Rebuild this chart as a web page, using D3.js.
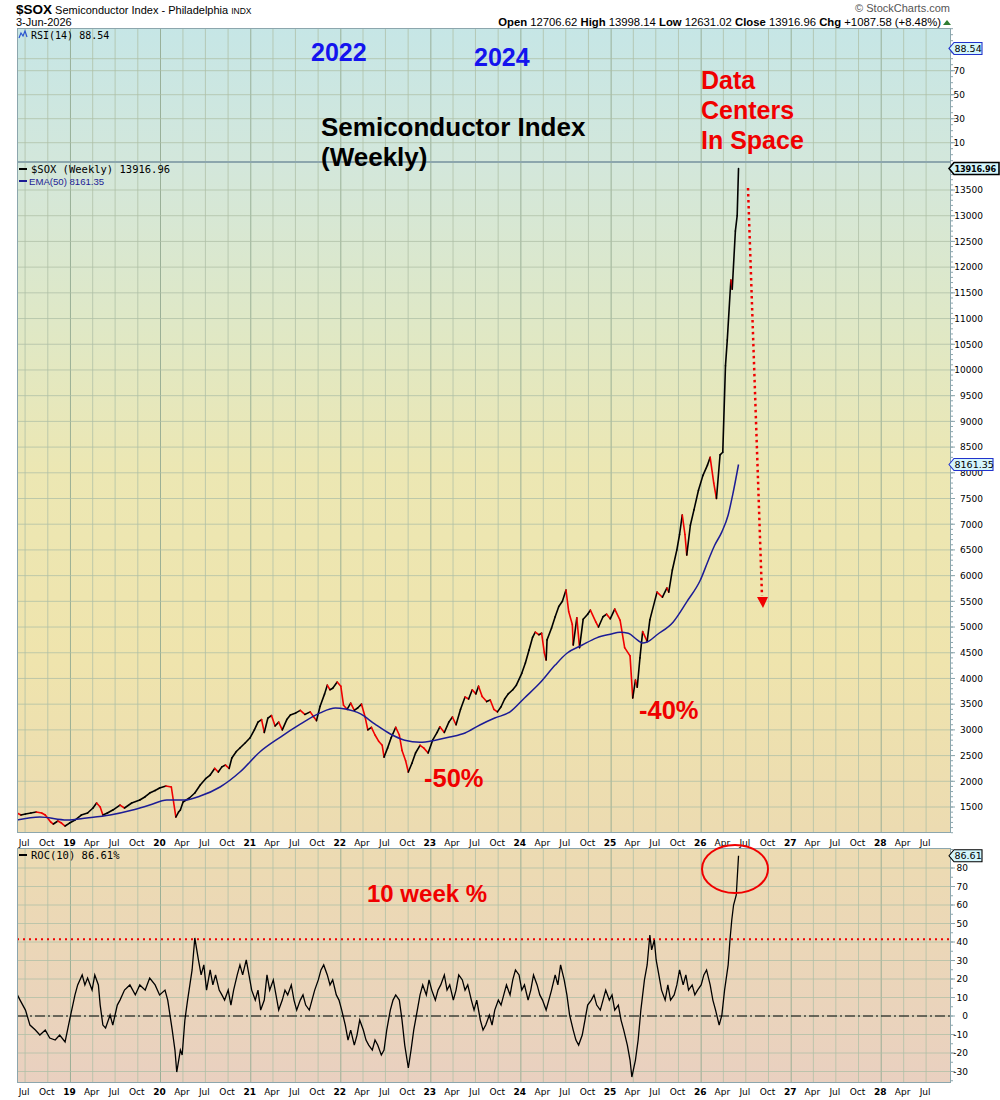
<!DOCTYPE html>
<html>
<head>
<meta charset="utf-8">
<script src="https://cdn.jsdelivr.net/npm/d3@7"></script>
<style>
  body { margin: 0; background: #fff; }
  svg text { font-family: "Liberation Sans", Arial, sans-serif; }
</style>
</head>
<body>
<svg id="chart" width="1000" height="1100"></svg>
<script>
// weekly closes, [decimal year, value]
const sox = [
  [2018.406,1383],[2018.45,1344],[2018.50,1363],[2018.56,1383],[2018.62,1402],[2018.68,1383],
  [2018.72,1344],[2018.78,1208],[2018.81,1169],[2018.86,1227],[2018.90,1188],[2018.94,1130],
  [2018.99,1188],[2019.05,1247],[2019.12,1344],[2019.19,1383],[2019.25,1480],[2019.29,1578],
  [2019.33,1500],[2019.36,1344],[2019.41,1383],[2019.47,1441],[2019.55,1538],[2019.60,1480],
  [2019.68,1578],[2019.77,1636],[2019.83,1700],[2019.88,1772],[2019.94,1820],[2019.99,1869],
  [2020.06,1908],[2020.12,1889],[2020.17,1305],[2020.20,1402],[2020.22,1441],[2020.25,1597],
  [2020.32,1675],[2020.38,1772],[2020.44,1927],[2020.50,2050],[2020.55,2122],[2020.60,2250],
  [2020.64,2180],[2020.68,2280],[2020.72,2316],[2020.76,2250],[2020.79,2452],[2020.84,2580],
  [2020.88,2647],[2020.94,2750],[2020.99,2841],[2021.04,3000],[2021.08,3150],[2021.12,3200],
  [2021.15,2950],[2021.19,3230],[2021.23,3280],[2021.27,3075],[2021.31,3150],[2021.35,3000],
  [2021.40,3200],[2021.44,3290],[2021.50,3330],[2021.55,3380],[2021.60,3300],[2021.66,3350],
  [2021.70,3250],[2021.73,3180],[2021.77,3460],[2021.82,3700],[2021.85,3870],[2021.88,3780],
  [2021.91,3810],[2021.96,3930],[2022.00,3850],[2022.03,3480],[2022.07,3400],[2022.11,3520],
  [2022.15,3380],[2022.19,3430],[2022.23,3500],[2022.27,3250],[2022.30,3000],[2022.34,3050],
  [2022.38,2900],[2022.42,2780],[2022.46,2700],[2022.48,2470],[2022.52,2650],[2022.56,2850],
  [2022.61,3050],[2022.65,2900],[2022.68,2600],[2022.72,2400],[2022.75,2180],[2022.79,2350],
  [2022.83,2550],[2022.88,2700],[2022.92,2650],[2022.97,2550],[2023.02,2800],[2023.07,2950],
  [2023.10,3060],[2023.15,2950],[2023.20,3150],[2023.24,3250],[2023.28,3100],[2023.33,3400],
  [2023.38,3640],[2023.42,3600],[2023.46,3780],[2023.50,3700],[2023.53,3850],[2023.57,3650],
  [2023.62,3550],[2023.66,3580],[2023.70,3400],[2023.74,3350],[2023.78,3450],[2023.82,3600],
  [2023.86,3700],[2023.91,3780],[2023.95,3870],[2024.01,4100],[2024.05,4300],[2024.09,4550],
  [2024.13,4800],[2024.16,4900],[2024.20,4850],[2024.23,4880],[2024.26,4500],[2024.28,4360],
  [2024.29,4750],[2024.34,4980],[2024.38,5200],[2024.42,5400],[2024.46,5500],[2024.50,5720],
  [2024.53,5300],[2024.57,5050],[2024.58,4650],[2024.62,5180],[2024.65,4600],[2024.69,5150],
  [2024.74,5250],[2024.77,5330],[2024.83,5100],[2024.86,5000],[2024.91,5200],[2024.95,5250],
  [2024.99,5160],[2025.04,5350],[2025.10,5130],[2025.15,4600],[2025.21,4440],[2025.24,3620],
  [2025.27,3970],[2025.29,3830],[2025.32,4400],[2025.35,4910],[2025.40,4720],[2025.43,5140],
  [2025.51,5680],[2025.57,5580],[2025.62,5760],[2025.64,5680],[2025.68,6110],[2025.73,6500],
  [2025.76,6800],[2025.79,7180],[2025.82,6800],[2025.84,6400],[2025.88,6980],[2025.92,7280],
  [2025.97,7660],[2026.02,7950],[2026.07,8150],[2026.10,8300],[2026.14,7800],[2026.17,7500],
  [2026.21,8350],[2026.24,8400],[2026.27,10080],[2026.29,10580],[2026.33,11750],[2026.345,11570],
  [2026.38,12700],[2026.40,13000],[2026.415,13916.96]
];

const ema50 = [
  [2018.406,1247],[2018.66,1305],[2018.96,1247],[2019.18,1286],[2019.44,1344],[2019.69,1441],
  [2019.88,1538],[2020.07,1636],[2020.27,1636],[2020.44,1714],[2020.66,1889],[2020.88,2180],
  [2021.10,2570],[2021.33,2860],[2021.55,3110],[2021.77,3330],[2021.94,3425],[2022.05,3405],
  [2022.22,3310],[2022.38,3110],[2022.55,2920],[2022.71,2800],[2022.88,2760],[2023.05,2800],
  [2023.21,2860],[2023.38,2940],[2023.55,3100],[2023.71,3230],[2023.88,3350],[2024.04,3620],
  [2024.21,3910],[2024.38,4260],[2024.51,4490],[2024.68,4650],[2024.84,4790],[2024.99,4860],
  [2025.10,4900],[2025.19,4880],[2025.29,4750],[2025.35,4690],[2025.40,4710],[2025.51,4850],
  [2025.69,5100],[2025.84,5490],[2025.99,5910],[2026.08,6300],[2026.15,6590],[2026.23,6850],
  [2026.30,7180],[2026.35,7570],[2026.415,8161.35]
];

const roc10 = [
  [2018.41,11.4],[2018.44,8.6],[2018.50,3.2],[2018.55,-4.9],[2018.61,-7.6],[2018.66,-10.3],
  [2018.72,-7.6],[2018.77,-11.9],[2018.83,-13.0],[2018.88,-10.3],[2018.94,-14.0],[2018.99,-2.2],
  [2019.05,11.4],[2019.08,16.8],[2019.13,22.2],[2019.16,16.8],[2019.19,20.5],[2019.24,14.0],
  [2019.27,22.2],[2019.31,16.8],[2019.33,5.9],[2019.36,-4.9],[2019.39,-6.5],[2019.44,0.5],
  [2019.47,-4.9],[2019.52,5.9],[2019.55,8.6],[2019.60,14.0],[2019.66,16.8],[2019.72,11.4],
  [2019.77,16.8],[2019.83,14.0],[2019.88,20.5],[2019.94,16.8],[2019.99,11.4],[2020.05,14.0],
  [2020.08,8.6],[2020.13,-7.6],[2020.16,-18.4],[2020.18,-30.3],[2020.22,-18.4],[2020.24,-21.1],
  [2020.27,-2.2],[2020.30,8.6],[2020.35,24.9],[2020.38,42.2],[2020.42,30.3],[2020.45,22.2],
  [2020.48,27.6],[2020.51,14.0],[2020.55,24.9],[2020.58,16.8],[2020.61,22.2],[2020.65,14.0],
  [2020.68,11.4],[2020.71,8.6],[2020.75,14.0],[2020.78,5.9],[2020.81,14.0],[2020.85,22.2],
  [2020.88,27.6],[2020.91,22.2],[2020.95,30.3],[2020.98,22.2],[2021.01,14.0],[2021.05,8.6],
  [2021.08,14.0],[2021.11,3.2],[2021.15,8.6],[2021.18,22.2],[2021.21,14.0],[2021.25,19.5],
  [2021.28,11.4],[2021.31,3.2],[2021.35,8.6],[2021.38,14.0],[2021.41,11.4],[2021.45,16.8],
  [2021.48,8.6],[2021.51,3.2],[2021.55,8.6],[2021.58,11.4],[2021.61,5.9],[2021.65,3.2],
  [2021.68,8.6],[2021.71,14.0],[2021.75,19.5],[2021.78,24.9],[2021.81,27.6],[2021.85,22.2],
  [2021.88,16.8],[2021.91,19.5],[2021.95,11.4],[2021.98,8.6],[2022.01,3.2],[2022.05,-4.9],
  [2022.08,-13.0],[2022.11,-7.6],[2022.15,-15.7],[2022.18,-10.3],[2022.21,-2.2],[2022.25,-7.6],
  [2022.28,-13.0],[2022.31,-15.7],[2022.35,-18.4],[2022.38,-13.0],[2022.41,-15.7],[2022.45,-21.1],
  [2022.48,-18.4],[2022.51,-7.6],[2022.55,3.2],[2022.58,8.6],[2022.61,11.4],[2022.65,8.6],
  [2022.68,-2.2],[2022.71,-15.7],[2022.75,-28.1],[2022.78,-18.4],[2022.81,-7.6],[2022.85,3.2],
  [2022.88,11.4],[2022.91,16.8],[2022.95,11.4],[2022.98,19.5],[2023.01,14.0],[2023.05,8.6],
  [2023.08,14.0],[2023.11,16.8],[2023.15,22.2],[2023.18,14.0],[2023.21,16.8],[2023.25,8.6],
  [2023.28,14.0],[2023.31,22.2],[2023.35,19.5],[2023.38,14.0],[2023.41,16.8],[2023.45,8.6],
  [2023.48,3.2],[2023.51,8.6],[2023.55,-2.2],[2023.58,-7.6],[2023.61,-4.9],[2023.65,0.5],
  [2023.68,-4.9],[2023.71,3.2],[2023.75,8.6],[2023.78,5.9],[2023.81,11.4],[2023.84,16.8],
  [2023.88,11.4],[2023.91,19.5],[2023.94,24.9],[2023.98,22.2],[2024.01,14.0],[2024.04,16.8],
  [2024.08,8.6],[2024.11,14.0],[2024.14,22.2],[2024.18,16.8],[2024.21,11.4],[2024.24,8.6],
  [2024.28,3.2],[2024.31,8.6],[2024.34,14.0],[2024.38,22.2],[2024.41,16.8],[2024.44,27.6],
  [2024.48,19.5],[2024.51,11.4],[2024.54,0.5],[2024.58,-7.6],[2024.61,-13.0],[2024.64,-15.7],
  [2024.68,-10.3],[2024.71,-2.2],[2024.74,5.9],[2024.78,8.6],[2024.81,11.4],[2024.84,5.9],
  [2024.88,3.2],[2024.91,8.6],[2024.94,14.0],[2024.98,8.6],[2025.01,11.4],[2025.04,3.2],
  [2025.08,5.9],[2025.11,-2.2],[2025.14,-7.6],[2025.18,-15.7],[2025.21,-23.8],[2025.23,-33.0],
  [2025.27,-23.8],[2025.30,-13.0],[2025.33,3.2],[2025.37,19.5],[2025.40,27.6],[2025.43,43.8],
  [2025.45,35.7],[2025.48,41.1],[2025.50,30.3],[2025.53,22.2],[2025.56,14.0],[2025.60,8.6],
  [2025.63,16.8],[2025.66,8.6],[2025.70,11.4],[2025.73,16.8],[2025.76,24.9],[2025.80,16.8],
  [2025.83,22.2],[2025.86,14.0],[2025.90,16.8],[2025.93,11.4],[2025.96,14.0],[2026.00,16.8],
  [2026.03,22.2],[2026.06,24.9],[2026.10,16.8],[2026.13,8.6],[2026.16,3.2],[2026.20,-4.9],
  [2026.23,0.5],[2026.26,14.0],[2026.30,27.6],[2026.32,41.1],[2026.34,51.9],[2026.36,60.0],
  [2026.39,65.4],[2026.415,86.61]
];

const rsiTicks = [10, 30, 50, 70];
const mainTicks = [1500,2000,2500,3000,3500,4000,4500,5000,5500,6000,6500,7000,7500,
  8000,8500,9000,9500,10000,10500,11000,11500,12000,12500,13000,13500];
const rocTicks = [-30,-20,-10,0,10,20,30,40,50,60,70,80];
const monthLabels = {3: 'Apr', 6: 'Jul', 9: 'Oct'};

const RED = '#f00000';
const L = 17, R = 951;
const P = {
  rsi:  {top: 28,  bot: 162},
  main: {top: 162, bot: 833},
  roc:  {top: 848, bot: 1083}
};

const toDate = y => {
  const Y = Math.floor(y);
  const a = new Date(Y, 0, 1), b = new Date(Y + 1, 0, 1);
  return new Date(+a + (y - Y) * (b - a));
};

const x = d3.scaleTime().domain([toDate(2018.406), toDate(2028.773)]).range([L, R]);
const yRsi = d3.scaleLinear().domain([10, 70]).range([142.7, 70.7]);
const yMain = d3.scaleLinear().domain([1500, 13500]).range([807, 190]);
const yRoc = d3.scaleLinear().domain([0, 80]).range([1016, 868]);

const svg = d3.select('#chart');
const defs = svg.append('defs');

const grad = defs.append('linearGradient')
  .attr('id', 'bg').attr('gradientUnits', 'userSpaceOnUse')
  .attr('x1', 0).attr('y1', 28).attr('x2', 0).attr('y2', 1083);
[[0, '#c6e6e6'], [0.13, '#d3e7db'], [0.28, '#dfe8c6'], [0.42, '#ece7b3'],
 [0.6, '#efe4ad'], [0.76, '#ecdbb1'], [0.8, '#ecdab3'], [1, '#e9d0c0']]
  .forEach(s => grad.append('stop').attr('offset', s[0]).attr('stop-color', s[1]));

Object.entries(P).forEach(([k, p]) => {
  defs.append('clipPath').attr('id', 'clip-' + k)
    .append('rect').attr('x', L).attr('y', p.top).attr('width', R - L).attr('height', p.bot - p.top);
});

// panel backgrounds
Object.values(P).forEach(p => {
  svg.append('rect').attr('x', L).attr('y', p.top).attr('width', R - L)
    .attr('height', p.bot - p.top).attr('fill', 'url(#bg)');
});

// vertical gridlines every quarter
const quarters = x.ticks(d3.timeMonth.every(3)).filter(d => x(d) < 940);
Object.values(P).forEach(p => {
  svg.append('g').selectAll('line').data(quarters).enter().append('line')
    .attr('x1', d => x(d)).attr('x2', d => x(d))
    .attr('y1', p.top).attr('y2', p.bot)
    .attr('stroke', d => d.getMonth() === 0 ? '#94ab92' : '#aebfa6')
    .attr('stroke-width', 1)
    .style('opacity', d => d.getMonth() === 0 ? 0.9 : 0.75);
});

// horizontal gridlines
function hGrid(vals, scale, p) {
  svg.append('g').selectAll('line').data(vals.filter(v => scale(v) > p.top + 2 && scale(v) < p.bot - 1))
    .enter().append('line')
    .attr('x1', L).attr('x2', R)
    .attr('y1', d => scale(d)).attr('y2', d => scale(d))
    .attr('stroke', '#aebfa6').attr('stroke-width', 1).style('opacity', 0.75);
}
hGrid([10, 30, 50, 70, 80], yRsi, P.rsi);
hGrid(mainTicks, yMain, P.main);
hGrid(rocTicks, yRoc, P.roc);

// price line, red on down weeks
const mainG = svg.append('g').attr('clip-path', 'url(#clip-main)');
const pairs = d3.pairs(sox);
mainG.selectAll('line.px').data(pairs).enter().append('line')
  .attr('class', 'px')
  .attr('x1', d => x(toDate(d[0][0]))).attr('y1', d => yMain(d[0][1]))
  .attr('x2', d => x(toDate(d[1][0]))).attr('y2', d => yMain(d[1][1]))
  .attr('stroke', d => d[1][1] < d[0][1] ? RED : '#000')
  .attr('stroke-width', 1.6).attr('stroke-linecap', 'round');

mainG.append('path').datum(ema50)
  .attr('fill', 'none').attr('stroke', '#1c1c96').attr('stroke-width', 1.5)
  .attr('d', d3.line().curve(d3.curveMonotoneX).x(d => x(toDate(d[0]))).y(d => yMain(d[1])));

// ROC panel
const rocG = svg.append('g').attr('clip-path', 'url(#clip-roc)');
rocG.append('line').attr('x1', L).attr('x2', R)
  .attr('y1', yRoc(41.5)).attr('y2', yRoc(41.5))
  .attr('stroke', RED).attr('stroke-width', 2).attr('stroke-dasharray', '2,4');
rocG.append('line').attr('x1', L).attr('x2', R)
  .attr('y1', yRoc(0)).attr('y2', yRoc(0))
  .attr('stroke', '#000').attr('stroke-width', 1).attr('stroke-dasharray', '10,3,2,3');
rocG.append('path').datum(roc10)
  .attr('fill', 'none').attr('stroke', '#000').attr('stroke-width', 1.3)
  .attr('d', d3.line().x(d => x(toDate(d[0]))).y(d => yRoc(d[1])));

// panel borders
Object.values(P).forEach(p => {
  svg.append('rect').attr('x', L + 0.5).attr('y', p.top + 0.5).attr('width', R - L - 1)
    .attr('height', p.bot - p.top - 1).attr('fill', 'none').attr('stroke', '#8ca6ad');
});

// right axes
function rightAxis(scale, ticks, minorStep, p, labelX) {
  const lo = scale.invert(p.bot), hi = scale.invert(p.top);
  const minor = d3.range(Math.ceil(lo / minorStep) * minorStep, hi, minorStep);
  const g = svg.append('g');
  g.selectAll('line.mn').data(minor).enter().append('line')
    .attr('x1', R).attr('x2', R + 2).attr('y1', d => scale(d)).attr('y2', d => scale(d))
    .attr('stroke', '#8ca6ad');
  g.selectAll('line.mj').data(ticks).enter().append('line')
    .attr('x1', R).attr('x2', R + 4).attr('y1', d => scale(d)).attr('y2', d => scale(d))
    .attr('stroke', '#8ca6ad');
  g.selectAll('text').data(ticks).enter().append('text')
    .attr('x', labelX).attr('y', d => scale(d) + 3.3)
    .attr('text-anchor', 'end')
    .style('font-family', '"DejaVu Sans", Verdana, sans-serif').style('font-size', '9px')
    .text(d => d);
}
rightAxis(yRsi, rsiTicks, 5, P.rsi, 965);
rightAxis(yMain, mainTicks, 100, P.main, 983);
rightAxis(yRoc, rocTicks, 5, P.roc, 968);

// bottom date labels
[842, 1091].forEach(yy => {
  svg.append('g').selectAll('text').data(quarters).enter().append('text')
    .attr('x', d => x(d) - 1).attr('y', yy + 3.5)
    .attr('text-anchor', 'middle')
    .style('font-family', '"DejaVu Sans", Verdana, sans-serif')
    .style('font-size', '9px')
    .style('font-weight', d => d.getMonth() === 0 ? 'bold' : 'normal')
    .text(d => d.getMonth() === 0 ? d3.timeFormat('%y')(d) : monthLabels[d.getMonth()]);
});

// value badges on the right edge
function badge(yc, label, w, border, bold) {
  const g = svg.append('g');
  g.append('path')
    .attr('d', `M${R - 2},${yc} L${R + 3},${yc - 6} L${R + w},${yc - 6} L${R + w},${yc + 6} L${R + 3},${yc + 6} Z`)
    .attr('fill', '#d4f6fc').attr('stroke', border).attr('stroke-width', bold ? 1.6 : 1.1);
  g.append('text').attr('x', R + 3.5).attr('y', yc + 3.5)
    .style('font-family', '"DejaVu Sans", Verdana, sans-serif')
    .style('font-size', bold ? '8.2px' : '9.5px').style('font-weight', bold ? 'bold' : 'normal')
    .style('letter-spacing', bold ? '-0.2px' : '0')
    .text(label);
}
badge(yRsi(88.54), '88.54', 31, '#2233cc', false);
badge(yMain(13916.96), '13916.96', 48, '#000', true);
badge(yMain(8161.35), '8161.35', 42, '#2233cc', false);
badge(yRoc(86.61), '86.61', 31, '#000', false);

// panel legends
const mono = '"DejaVu Sans Mono", monospace';
svg.append('path').attr('d', 'M19,38 L21,33 L23,36 L25,31 L27,37')
  .attr('fill', 'none').attr('stroke', '#2a55d0').attr('stroke-width', 1.2);
svg.append('text').attr('x', 31).attr('y', 39).style('font-family', mono).style('font-size', '10px')
  .text('RSI(14) 88.54');
svg.append('line').attr('x1', 19).attr('x2', 27).attr('y1', 169).attr('y2', 169)
  .attr('stroke', '#000').attr('stroke-width', 2);
svg.append('text').attr('x', 31).attr('y', 173).style('font-family', mono).style('font-size', '10.5px')
  .text('$SOX (Weekly) 13916.96');
svg.append('line').attr('x1', 19).attr('x2', 27).attr('y1', 181).attr('y2', 181)
  .attr('stroke', '#1c1c96').attr('stroke-width', 2);
svg.append('text').attr('x', 29).attr('y', 184.5).style('font-size', '9.6px').attr('fill', '#1c1c96')
  .text('EMA(50) 8161.35');
svg.append('line').attr('x1', 19).attr('x2', 27).attr('y1', 855).attr('y2', 855)
  .attr('stroke', '#000').attr('stroke-width', 2);
svg.append('text').attr('x', 31).attr('y', 859).style('font-family', mono).style('font-size', '10.5px')
  .text('ROC(10) 86.61%');

// header
const h1 = svg.append('text').attr('x', 16).attr('y', 14);
h1.append('tspan').style('font-weight', 'bold').style('font-size', '13.5px').text('$SOX');
h1.append('tspan').style('font-size', '11px').text(' Semiconductor Index - Philadelphia ');
h1.append('tspan').style('font-size', '8.5px').text('INDX');
svg.append('text').attr('x', 16).attr('y', 25.5).style('font-size', '11px').text('3-Jun-2026');
svg.append('text').attr('x', 950).attr('y', 12).attr('text-anchor', 'end')
  .style('font-size', '11px').attr('fill', '#555').text('\u00a9 StockCharts.com');
const quote = [['Open', '12706.62'], ['High', '13998.14'], ['Low', '12631.02'],
  ['Close', '13916.96'], ['Chg', '+1087.58 (+8.48%)']];
const hq = svg.append('text').attr('x', 941).attr('y', 25.5).attr('text-anchor', 'end').style('font-size', '11.3px');
quote.forEach((q, i) => {
  hq.append('tspan').style('font-weight', 'bold').text((i ? '  ' : '') + q[0] + ' ');
  hq.append('tspan').text(q[1]);
});
svg.append('path').attr('d', 'M943,25 L947,20 L951,25 Z').attr('fill', '#2e7d32');

// annotations
const ann = (tx, ty, txt, col, size) => svg.append('text').attr('x', tx).attr('y', ty)
  .style('font-weight', 'bold').style('font-size', size + 'px').attr('fill', col).text(txt);
ann(311, 61, '2022', '#1414ee', 25);
ann(474, 66, '2024', '#1414ee', 25);
ann(321, 136, 'Semiconductor Index', '#000', 26);
ann(321, 166, '(Weekly)', '#000', 26);
ann(701, 89, 'Data', RED, 25);
ann(701, 119, 'Centers', RED, 25);
ann(701, 149, 'In Space', RED, 25);
ann(424, 787, '-50%', RED, 25.5);
ann(639, 719, '-40%', RED, 25.5);
ann(367, 902, '10 week %', RED, 24);

svg.append('line').attr('x1', 748).attr('y1', 188).attr('x2', 762).attr('y2', 596)
  .attr('stroke', RED).attr('stroke-width', 2.5).attr('stroke-dasharray', '2.5,3.5');
svg.append('path').attr('d', 'M757,597 L768,597 L763,608 Z').attr('fill', RED);

svg.append('ellipse').attr('cx', 735).attr('cy', 869).attr('rx', 33).attr('ry', 24)
  .attr('fill', 'none').attr('stroke', RED).attr('stroke-width', 2);
</script>
</body>
</html>
